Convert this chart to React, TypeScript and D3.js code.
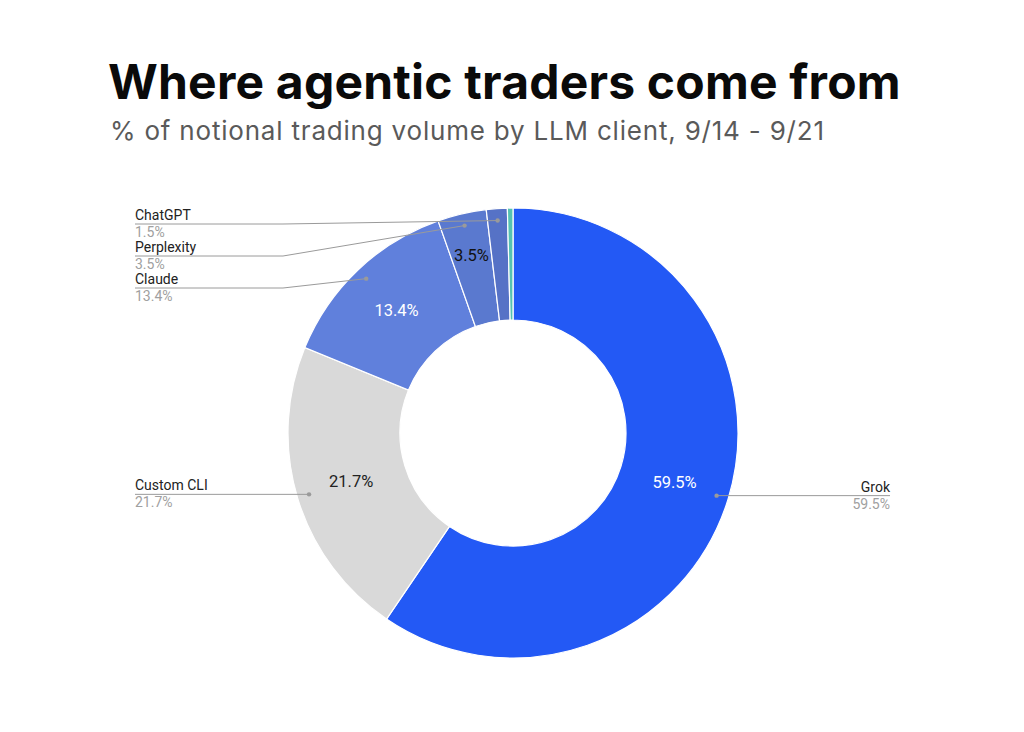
import React from "react";
import * as d3 from "d3";

// chart data
const clients = ["Grok", "Custom CLI", "Claude", "Perplexity", "ChatGPT", "Other"];
const shares = [59.5, 21.7, 13.4, 3.5, 1.5, 0.4];
const sliceColors = ["#2359f5", "#d9d9d9", "#6080dc", "#5a79cf", "#5672c6", "#55c2b2"];
const innerLabelColors = ["#ffffff", "#222222", "#ffffff", "#111111", "", ""];
const shownInner = [true, true, true, true, false, false];
const shownOuter = [true, true, true, true, true, false];

const W = 1024;
const H = 732;
const cx = 513;
const cy = 433;
const outerR = 225;
const innerR = 113;

type Slice = d3.PieArcDatum<number>;

export default function App() {
  const pie = d3
    .pie<number>()
    .sort(null)
    .value((d) => d);
  const arcs: Slice[] = pie(shares);

  const arc = d3.arc<Slice>().innerRadius(innerR).outerRadius(outerR);
  const dotArc = d3.arc<Slice>().innerRadius(213).outerRadius(213);
  // the thin Perplexity slice puts its label further out
  const labelArc = (i: number) => {
    const r = i === 3 ? 183 : (innerR + outerR) / 2;
    return d3.arc<Slice>().innerRadius(r).outerRadius(r);
  };

  // left-side labels for the small slices are stacked
  const leftX = 135;
  const rightX = 890;
  const elbowX = 283;
  const stackTop = 224;
  const stackGap = 32;

  const outer = arcs
    .map((a, i) => {
      if (!shownOuter[i]) return null;
      const [dx, dy] = dotArc.centroid(a);
      const mid = (a.startAngle + a.endAngle) / 2;
      const onRight = mid < Math.PI;
      let lineY = cy + dy;
      let points: [number, number][];
      if (onRight) {
        points = [
          [cx + dx, lineY],
          [rightX, lineY],
        ];
      } else if (i >= 2) {
        // stacked: ChatGPT top, then Perplexity, then Claude
        const rank = 4 - i;
        lineY = stackTop + rank * stackGap;
        points = [
          [cx + dx, cy + dy],
          [elbowX, lineY],
          [leftX, lineY],
        ];
      } else {
        points = [
          [cx + dx, lineY],
          [leftX, lineY],
        ];
      }
      return { i, onRight, lineY, points, dot: [cx + dx, cy + dy] };
    })
    .filter((d) => d !== null) as {
    i: number;
    onRight: boolean;
    lineY: number;
    points: [number, number][];
    dot: number[];
  }[];

  const line = d3.line();

  return (
    <svg
      width={W}
      height={H}
      style={{ position: "absolute", left: 0, top: 0, background: "#fff" }}
      fontFamily="Roboto, Arial, sans-serif"
    >
      <rect width={W} height={H} fill="#fff" />
      <text
        x={108}
        y={99}
        fontFamily="Inter, sans-serif"
        fontWeight={700}
        fontSize={48}
        letterSpacing={0.2}
        fill="#0a0a0a"
      >
        Where agentic traders come from
      </text>
      <text
        x={110}
        y={140}
        fontFamily="Inter, sans-serif"
        fontSize={26}
        letterSpacing={0.8}
        fill="#5a5a5a"
      >
        % of notional trading volume by LLM client, 9/14 - 9/21
      </text>

      <g transform={`translate(${cx},${cy})`}>
        {arcs.map((a, i) => (
          <path key={clients[i]} d={arc(a) ?? ""} fill={sliceColors[i]} stroke="#fff" strokeWidth={1.2} />
        ))}
        {arcs.map((a, i) => {
          if (!shownInner[i]) return null;
          const [x, y] = labelArc(i).centroid(a);
          return (
            <text
              key={"in" + i}
              x={x}
              y={y}
              dy="0.35em"
              textAnchor="middle"
              fontSize={16.5}
              fill={innerLabelColors[i]}
            >
              {shares[i].toFixed(1)}%
            </text>
          );
        })}
      </g>

      {outer.map((o) => (
        <g key={"out" + o.i}>
          <path d={line(o.points) ?? ""} fill="none" stroke="#9a9a9a" strokeWidth={1} />
          <circle cx={o.dot[0]} cy={o.dot[1]} r={2.2} fill="#9a9a9a" />
          <text
            x={o.onRight ? rightX : leftX}
            y={o.lineY - 4}
            textAnchor={o.onRight ? "end" : "start"}
            fontSize={14}
            fill="#222"
          >
            {clients[o.i]}
          </text>
          <text
            x={o.onRight ? rightX : leftX}
            y={o.lineY + 13}
            textAnchor={o.onRight ? "end" : "start"}
            fontSize={14}
            fill="#a0a0a0"
          >
            {shares[o.i].toFixed(1)}%
          </text>
        </g>
      ))}
    </svg>
  );
}
